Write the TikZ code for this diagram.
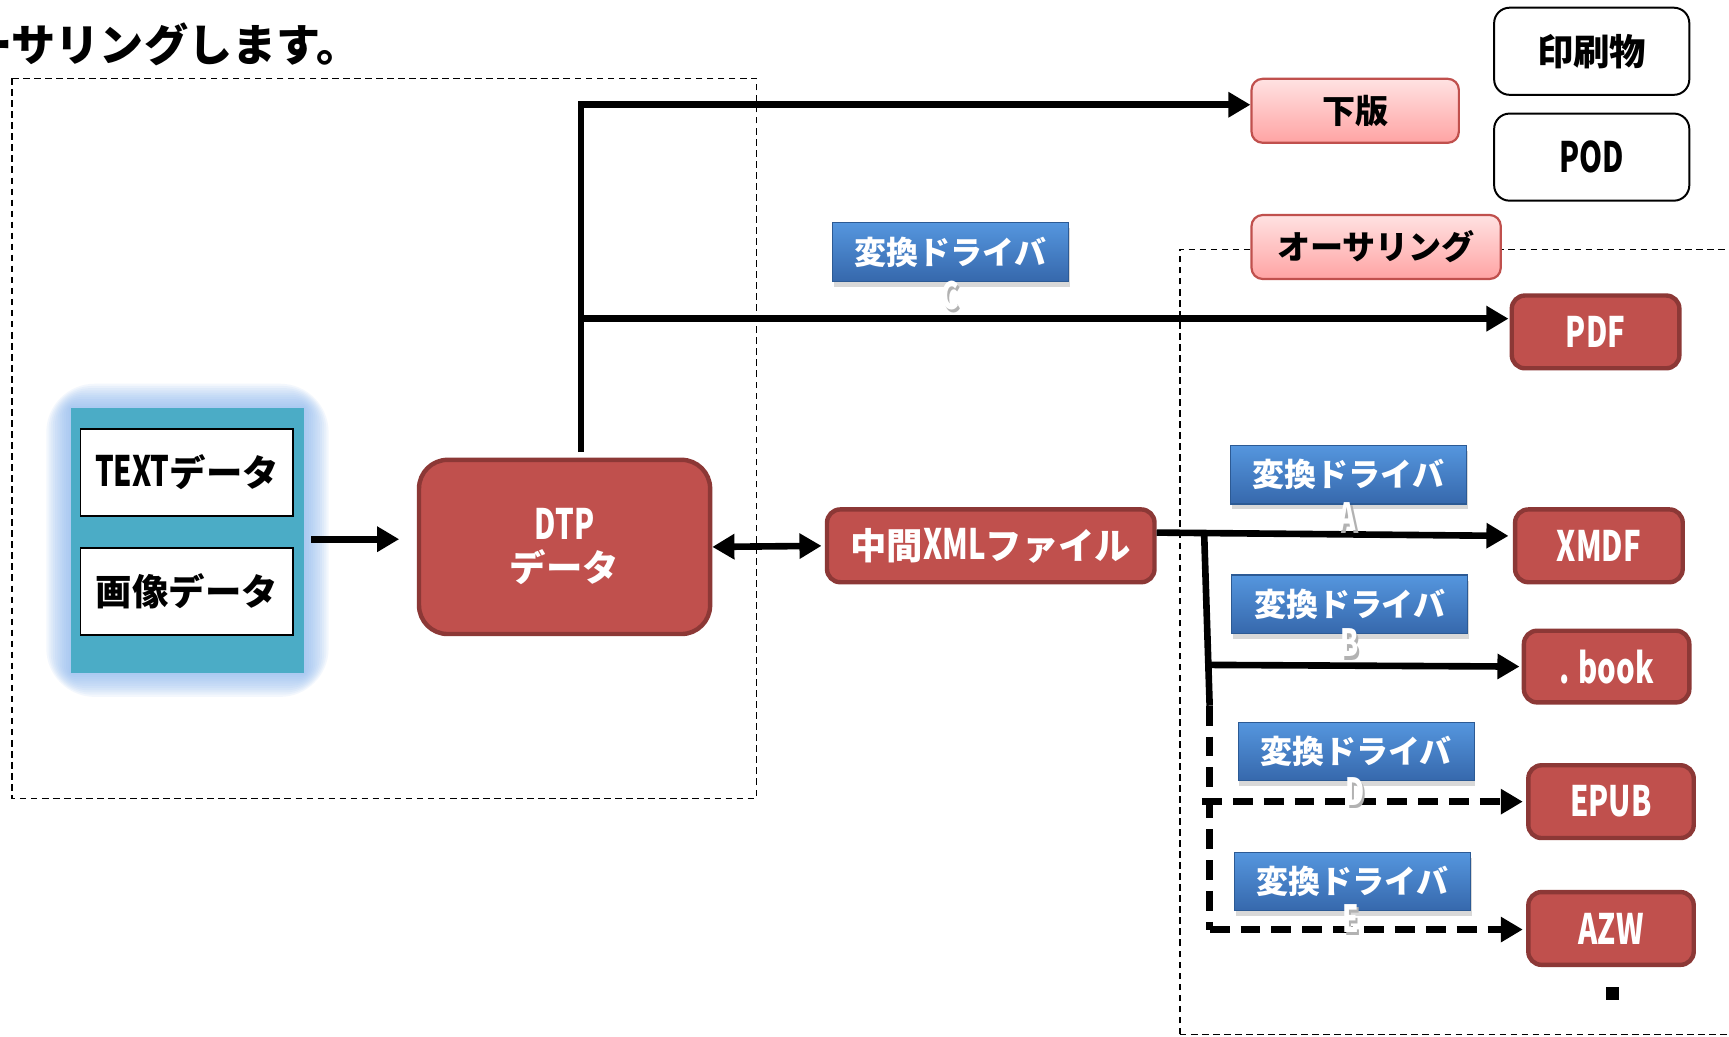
\documentclass[tikz,border=0pt]{standalone}
\usepackage{fontspec}
\newfontfamily\jp{Noto Sans CJK JP}
\newfontfamily\jpc{Noto Sans CJK JP}[FakeStretch=0.70]
\usetikzlibrary{arrows.meta,shadows,calc}
\definecolor{redF}{HTML}{C0504D}
\definecolor{redB}{HTML}{8C3836}
\definecolor{pinkT}{HTML}{FFE2E2}
\definecolor{pinkB}{HTML}{FFA3A3}
\definecolor{blueT}{HTML}{5596DE}
\definecolor{blueB}{HTML}{3668AC}
\definecolor{blueD}{HTML}{2C5A94}
\definecolor{tealC}{HTML}{4BACC6}
\definecolor{glowC}{HTML}{8DB8F0}
\newcommand\LTN[2][19]{{\jpc\fontsize{#1}{#1}\selectfont #2}}
\tikzset{
  redbox/.style={draw=redB, fill=redF, line width=2pt, rounded corners=6pt,
    text=white, inner sep=0pt, align=center,
    font=\jp\bfseries\fontsize{16.5}{19}\selectfont},
  pinkbox/.style={draw=redF, line width=1pt, rounded corners=5pt,
    top color=pinkT, bottom color=pinkB, inner sep=0pt,
    font=\jp\bfseries\fontsize{15}{17}\selectfont},
  whitebox/.style={draw=black, line width=0.9pt, rounded corners=7pt, fill=white,
    inner sep=0pt, minimum width=88.5pt, minimum height=39.5pt,
    font=\jp\bfseries\fontsize{16.5}{18}\selectfont},
  drvbox/.style={draw=blueD, line width=0.6pt, top color=blueT, bottom color=blueB,
    text=white, inner sep=0pt, minimum width=107pt, minimum height=26.5pt,
    drop shadow={shadow xshift=0.5pt, shadow yshift=-2.5pt, opacity=0.3},
    font=\jp\bfseries\fontsize{14.5}{16}\selectfont},
  datbox/.style={draw=black, line width=0.9pt, fill=white, inner sep=0pt,
    minimum width=96.5pt, minimum height=39.5pt,
    font=\jp\bfseries\fontsize{16.5}{18}\selectfont},
  lbl/.style={text=white, inner sep=0pt, font=\jp\bfseries},
  lblsh/.style={text=black!30, inner sep=0pt, font=\jp\bfseries},
  conn/.style={line width=3pt, line cap=butt, line join=miter},
  tip/.style={-{Triangle[length=10pt,width=11pt]}},
  dtip/.style={{Triangle[length=10pt,width=11pt]}-{Triangle[length=10pt,width=11pt]}},
  dsh/.style={dash pattern=on 9pt off 5pt},
  region/.style={line width=0.6pt, dash pattern=on 3pt off 2pt}
}
\begin{document}
\begin{tikzpicture}[x=0.5pt,y=-0.5pt]
\useasboundingbox (0,0) rectangle (1568,940);
\fill[white] (0,0) rectangle (1568,940);

% heading (clipped at left edge, as in the reference)
\node[anchor=west, inner sep=0pt, font=\jp\bfseries\fontsize{20}{22}\selectfont] (head) at (-29,40) {ーサリングします。};

% dashed regions
\draw[region] (11,71) rectangle (686,724);
\draw[region] (1070,938) -- (1070,226) -- (1600,226);
\draw[region] (1070,938) -- (1600,938);

% glow + container
\coordinate (gNW) at (64,370);
\coordinate (gSE) at (276,610);
\foreach \g in {2,4,...,22}{
  \fill[glowC, opacity=0.1, rounded corners=\g pt] ($(gNW)+(-\g,-\g)$) rectangle ($(gSE)+(\g,\g)$);
}
\node[fill=tealC, inner sep=0pt, minimum width=106pt, minimum height=120pt] (src) at (170,490) {};
\node[datbox] (txt) at (169.5,428.5) {\LTN{TEXT}データ};
\node[datbox] (img) at (169.5,536.5) {画像データ};

% main nodes
\node[redbox, minimum width=132pt, minimum height=79pt, rounded corners=13pt] (dtp) at (512,496) {\LTN{DTP}\\データ};
\node[redbox, minimum width=148.5pt, minimum height=33pt] (xml) at (898.5,495) {中間\LTN{XML}ファイル};

\node[pinkbox, minimum width=94pt, minimum height=29pt] (geban) at (1229,100.5) {下版};
\node[pinkbox, minimum width=113pt, minimum height=29pt] (auth) at (1248,224) {オーサリング};
\node[whitebox] (ins) at (1443.5,46.5) {印刷物};
\node[whitebox] (pod) at (1443.5,142.5) {\LTN{POD}};

\node[redbox, minimum width=76pt, minimum height=33pt] (pdf) at (1447,301) {\LTN{PDF}};
\node[redbox, minimum width=76pt, minimum height=33pt] (xmdf) at (1450,495) {\LTN{XMDF}};
\node[redbox, minimum width=75pt, minimum height=32.5pt] (book) at (1457,604.5) {\LTN{. book}};
\node[redbox, minimum width=75pt, minimum height=33pt] (epub) at (1461,727) {\LTN{EPUB}};
\node[redbox, minimum width=75pt, minimum height=33pt] (azw) at (1461,842) {\LTN{AZW}};

% connectors
\coordinate (cTop) at (527,95);
\coordinate (cMid) at (527,289);
\coordinate (cBot) at (527,410);
\draw[conn,tip] (cBot) -- (cTop) -- (geban.west |- cTop);
\draw[conn,tip] (cMid) -- ($(pdf.west |- cMid)+(-1,0)$);
\draw[conn,tip,shorten <=3pt,shorten >=8pt] (src.east |- 0,489) -- (dtp.west |- 0,489);
\draw[conn,dtip,shorten >=1.5pt] (dtp.east) -- (xml.west);

\coordinate (xo) at (1049,483);
\coordinate (b1) at (1092,483);
\coordinate (b2) at (1097,640);
\coordinate (bk) at (1097,603);
\coordinate (b3) at (1097,843);
\coordinate (ep) at (1090,727);
\draw[conn,tip] (xo) -- ($(xmdf.west)+(-4,-9)$);
\draw[conn] (b1) -- (b2);
\draw[conn,tip] (bk) -- ($(book.west)+(-2,0)$);
\draw[conn,dsh] (b2) -- (b3);
\draw[conn,dsh,tip] (b3) -- ($(azw.west |- b3)+(-3,0)$);
\draw[conn,dsh,tip] (ep) -- ($(epub.west)+(-3,0)$);

% drivers
\node[drvbox] (drvC) at (862,228.5) {変換ドライバ};
\node[drvbox] (drvA) at (1223,430.5) {変換ドライバ};
\node[drvbox] (drvB) at (1224,548) {変換ドライバ};
\node[drvbox] (drvD) at (1230,681.5) {変換ドライバ};
\node[drvbox] (drvE) at (1226.5,799.5) {変換ドライバ};

% driver letters
\foreach \n/\t/\px/\py in {C/C/862/268, A/A/1222/468, B/B/1224/583, D/D/1229/718, E/E/1225/833}{
  \node[lblsh] (sh\n) at (\px+2,\py+3) {\LTN[17]{\t}};
  \node[lbl] (lb\n) at (\px,\py) {\LTN[17]{\t}};
}

\node[fill=black, inner sep=0pt, minimum size=6pt] (sq) at (1462,901) {};
\end{tikzpicture}
\end{document}
